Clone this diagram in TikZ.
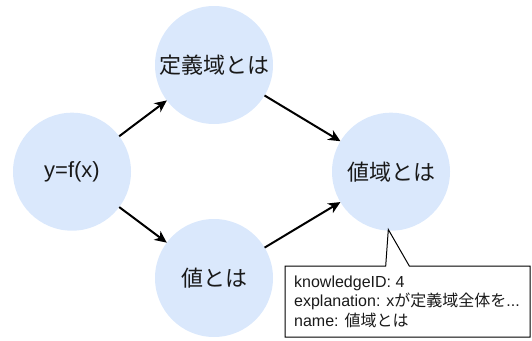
\documentclass[tikz,border=0pt]{standalone}
\usepackage{fontspec}
\setmainfont{Liberation Sans}
\newfontfamily\jp{Noto Sans CJK JP}
\usetikzlibrary{arrows.meta}
\definecolor{cblue}{HTML}{DAE8FC}
\tikzset{
  topic/.style={circle, minimum size=118pt, inner sep=0pt, outer sep=0pt, fill=cblue, draw=none,
    font=\fontsize{22}{26}\selectfont, text=black!90},
  link/.style={line width=2pt, -{Stealth[length=12pt,width=11pt,inset=3.5pt]}},
  infotext/.style={anchor=west, inner sep=0pt, align=left, font=\fontsize{16}{19.5}\selectfont, text=black!90},
  calloutline/.style={draw=black, line width=1pt, line join=miter}
}
\begin{document}
\begin{tikzpicture}[x=1pt,y=-1pt]
\useasboundingbox (0,0) rectangle (532,340);
\node[topic] (f) at (72,171.7) {y=f(x)};
\node[topic] (dom) at (214,65) {\jp 定義域とは};
\node[topic] (val) at (214,278) {\jp 値とは};
\node[topic] (rng) at (391,171.7) {\jp 値域とは};
\draw[link] (f) -- (dom);
\draw[link] (f) -- (val);
\draw[link] (dom) -- (rng);
\draw[link] (val) -- (rng);
\coordinate (bnw) at (285,266);
\coordinate (bse) at (530,337);
\coordinate (tip) at (388.3,229.5);
\draw[calloutline] (bnw) -- (385.7,266) -- (tip) -- (409.3,266) -- (bse |- bnw) -- (bse) -- (bnw |- bse) -- cycle;
\node[infotext] (info) at (294,301.5) {knowledgeID: 4\\explanation: x{\jp が定義域全体を}...\\name: {\jp 値域とは}};
\end{tikzpicture}
\end{document}
